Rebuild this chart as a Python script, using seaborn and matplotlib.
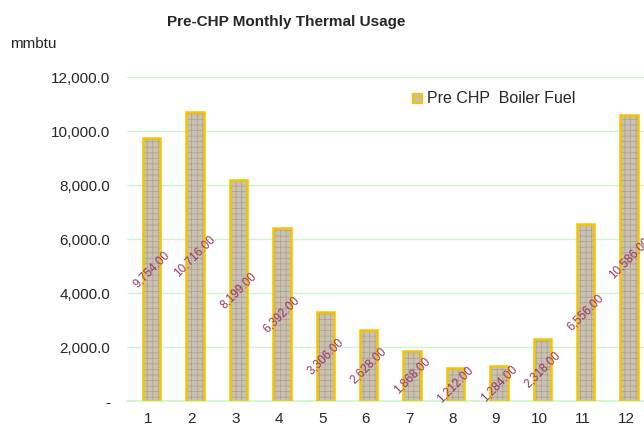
import matplotlib
matplotlib.use('Agg')
import matplotlib.pyplot as plt
import matplotlib.transforms as mtransforms
from matplotlib.patches import Patch
import pandas as pd
import seaborn as sns

# Monthly values
months = ['1', '2', '3', '4', '5', '6', '7', '8', '9', '10', '11', '12']
boiler_fuel = [9754, 10716, 8199, 6392, 3306, 2628, 1868, 1212, 1284, 2318, 6556, 10586]
y_ticks = [0, 2000, 4000, 6000, 8000, 10000, 12000]
y_tick_labels = ['-', '2,000.0', '4,000.0', '6,000.0', '8,000.0', '10,000.0', '12,000.0']
series_name = 'Pre CHP  Boiler Fuel'

df = pd.DataFrame({'month': months, 'fuel': boiler_fuel})

sns.set_style('white')
plt.rcParams['font.family'] = ['Liberation Sans', 'DejaVu Sans']
plt.rcParams['hatch.linewidth'] = 0.5

fig = plt.figure(figsize=(6.44, 4.29), dpi=100)
ax = fig.add_axes([0.197, 0.065, 0.809, 0.7555])

grid_color = '#ccf5cc'
for v in y_ticks:
    ax.axhline(v, color=grid_color, lw=1.0, zorder=0)

# filled, hatched bars
sns.barplot(data=df, x='month', y='fuel', ax=ax, width=0.4, color='#c9c1b1',
            edgecolor='#aaa190', linewidth=0, saturation=1, zorder=2)
for p in ax.patches:
    p.set_hatch('+++')

# gold outline on top
sns.barplot(data=df, x='month', y='fuel', ax=ax, width=0.4, fill=False,
            edgecolor='#f5c400', linewidth=1.8, zorder=3)

# small shift right, like the 3D bars in the original
shift = mtransforms.ScaledTranslation(3 / 100, 0, fig.dpi_scale_trans)
for p in ax.patches:
    p.set_transform(ax.transData + shift)

# rotated data labels at bar middles
for i, v in enumerate(boiler_fuel):
    ax.text(i, v / 2, f'{v:,.2f}', rotation=45, ha='center', va='center',
            fontsize=8.5, color='#993366', zorder=4,
            transform=ax.transData + shift, clip_on=False)

ax.set_xlim(-0.5, 11.5)
ax.set_ylim(0, 12000)
ax.set_yticks(y_ticks)
ax.set_yticklabels(y_tick_labels, fontsize=11)
ax.tick_params(axis='y', length=0, pad=12)
ax.set_xticks([i - 0.5 for i in range(13)], minor=True)
ax.tick_params(axis='x', which='major', length=0, labelsize=11, pad=8)
ax.tick_params(axis='x', which='minor', length=5, color=grid_color, width=1)
ax.set_xlabel('')
ax.set_ylabel('')
for s in ['top', 'right', 'left']:
    ax.spines[s].set_visible(False)
ax.spines['bottom'].set_color(grid_color)
ax.spines['bottom'].set_linewidth(1.2)

# legend
handle = Patch(facecolor='#c9c1b1', edgecolor='#f5c400', hatch='+++', linewidth=1)
ax.legend([handle], [series_name], loc='upper left', bbox_to_anchor=(0.52, 1.0),
          frameon=False, fontsize=11.5, handlelength=0.6, handleheight=0.6,
          handletextpad=0.3)

fig.text(0.445, 0.948, 'Pre-CHP Monthly Thermal Usage', ha='center', va='center',
         fontsize=11, fontweight='bold')
fig.text(0.016, 0.898, 'mmbtu', ha='left', va='center', fontsize=11)

fig.savefig('out.png', dpi=100)
